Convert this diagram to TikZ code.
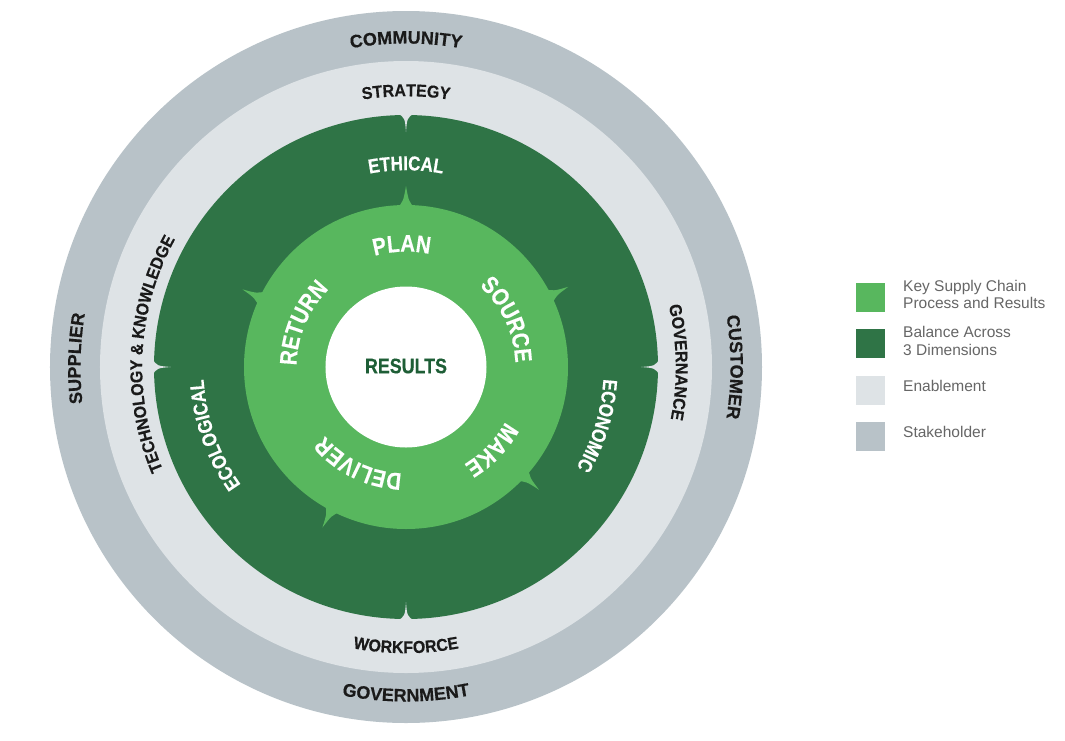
\documentclass[tikz,border=0pt]{standalone}
\usepackage{fontspec}
\setmainfont{Liberation Sans}
\newfontfamily\cfontA[FakeBold=0.4]{Liberation Sans}
\newfontfamily\cfontB[FakeStretch=0.85,FakeBold=0.4]{Liberation Sans}
\newfontfamily\cfontC[FakeStretch=0.93,FakeBold=0.4]{Liberation Sans}
\usetikzlibrary{decorations.text}
\definecolor{stk}{HTML}{B8C2C8}
\definecolor{enb}{HTML}{DEE3E6}
\definecolor{dimg}{HTML}{2F7446}
\definecolor{proc}{HTML}{58B75E}
\definecolor{resg}{HTML}{1E5E36}
\definecolor{lbl}{HTML}{1A1A1A}
\definecolor{legt}{HTML}{666666}
\newcommand\stkfont{\cfontA\fontsize{18}{18}\selectfont\bfseries}
\newcommand\enbfont{\cfontC\fontsize{17.2}{17.2}\selectfont\bfseries}
\newcommand\dimfont{\cfontB\fontsize{20}{20}\selectfont\bfseries}
\newcommand\procfont{\cfontB\fontsize{24}{24}\selectfont\bfseries}
% clockwise arc text: angle, radius, span, font, color, text
\newcommand\cwtext[6]{%
  \path[decorate,decoration={text along path,text align=center,text color=#5,text={|#4|#6}}]
    ({#1+#3}:#2) arc[start angle={#1+#3}, end angle={#1-#3}, radius=#2];}
% counter-clockwise arc text
\newcommand\ccwtext[6]{%
  \path[decorate,decoration={text along path,text align=center,text color=#5,text={|#4|#6}}]
    ({#1-#3}:#2) arc[start angle={#1-#3}, end angle={#1+#3}, radius=#2];}
\begin{document}
\begin{tikzpicture}[x=1pt,y=1pt,
  ring/.style={circle,inner sep=0pt,draw=none},
  legbox/.style={rectangle,minimum size=29pt,inner sep=0pt},
  legtext/.style={anchor=west,align=left,text=legt,font=\fontsize{15.5}{17.5}\selectfont,inner sep=0pt}]
\useasboundingbox (-406,-373) rectangle (659,367);
\fill[white] (-406,-373) rectangle (659,367);
% rings
\node[ring,fill=stk,minimum size=712pt] (stakeholder) at (0,0) {};
\node[ring,fill=enb,minimum size=612pt] (enablement) at (0,0) {};
\node[ring,fill=dimg,minimum size=504pt] (dimensions) at (0,0) {};
% notches of the enablement ring
\foreach \a in {90,180,0,-90}{
  \fill[enb] ({\a-1.9}:254) .. controls ({\a-0.25}:249) .. ({\a}:235)
    .. controls ({\a+0.25}:249) .. ({\a+1.9}:254) -- cycle;
}
% spikes of the process ring
\foreach \a in {90,26.3,-42.7,-117.5,154.6}{
  \fill[proc] ({\a-3.4}:158) .. controls ({\a-0.9}:166) .. ({\a}:181)
    .. controls ({\a+0.9}:166) .. ({\a+3.4}:158) -- cycle;
}
\node[ring,fill=proc,minimum size=324pt] (process) at (0,0) {};
\node[ring,fill=white,minimum size=161pt] (results) at (0,0) {};
\node[text=resg,font=\cfontB\fontsize{21}{21}\selectfont\bfseries] (restext) at (0,1) {RESULTS};
% stakeholder labels
\cwtext{90}{323.5}{30}{\stkfont}{lbl}{COMMUNITY}
\cwtext{178.5}{325.5}{30}{\stkfont}{lbl}{SUPPLIER}
\cwtext{0}{324.5}{30}{\stkfont}{lbl}{CUSTOMER}
\ccwtext{-90}{334.5}{30}{\stkfont}{lbl}{GOVERNMENT}
% enablement labels
\cwtext{90}{270.8}{40}{\enbfont}{lbl}{STRATEGY}
\cwtext{177}{263.8}{40}{\enbfont}{lbl}{TECHNOLOGY {\&} KNOWLEDGE}
\cwtext{1}{269.8}{40}{\enbfont}{lbl}{GOVERNANCE}
\ccwtext{-90}{286.2}{40}{\enbfont}{lbl}{WORKFORCE}
% dimension labels
\cwtext{90}{196.8}{30}{\dimfont}{white}{ETHICAL}
\cwtext{-160.5}{202.8}{30}{\dimfont}{white}{ECOLOGICAL}
\cwtext{-17}{197.8}{30}{\dimfont}{white}{ECONOMIC}
% process labels
\cwtext{92}{115.4}{40}{\procfont}{white}{PLAN}
\cwtext{25}{109.4}{40}{\procfont}{white}{SOURCE}
\cwtext{-44}{113.4}{40}{\procfont}{white}{MAKE}
\cwtext{-116}{106.4}{40}{\procfont}{white}{DELIVER}
\cwtext{157}{109.4}{40}{\procfont}{white}{RETURN}
% legend
\node[legbox,fill=proc] (lg1) at (464.5,69.75) {};
\node[legbox,fill=dimg] (lg2) at (464.5,23.25) {};
\node[legbox,fill=enb] (lg3) at (464.5,-23.25) {};
\node[legbox,fill=stk] (lg4) at (464.5,-69.75) {};
\node[legtext] (lt1) at (497,72.75) {Key Supply Chain\\Process and Results};
\node[legtext] (lt2) at (497,26.25) {Balance Across\\3 Dimensions};
\node[legtext] (lt3) at (497,-18.5) {Enablement};
\node[legtext] (lt4) at (497,-64.5) {Stakeholder};
\end{tikzpicture}
\end{document}
